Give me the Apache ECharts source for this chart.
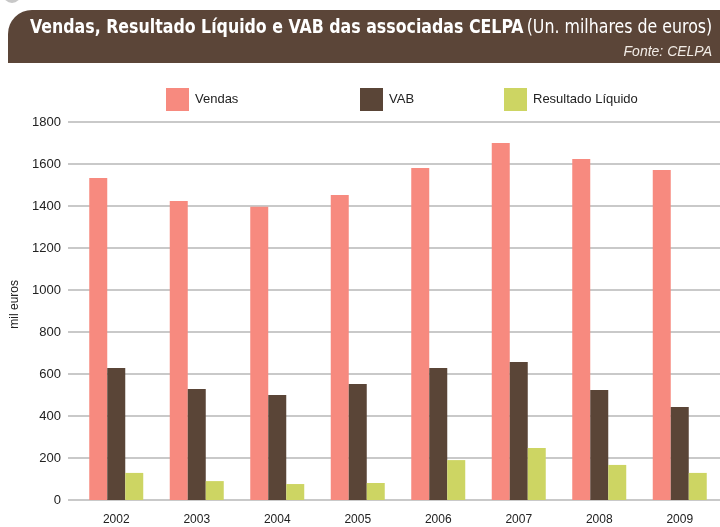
<!DOCTYPE html>
<html>
<head>
<meta charset="utf-8">
<script src="https://cdn.jsdelivr.net/npm/echarts@6/dist/echarts.min.js"></script>
<style>
  html, body { margin: 0; padding: 0; background: #fff; }
  #main { width: 720px; height: 527px; }
</style>
</head>
<body>
<div id="main"></div>
<script type="text/javascript">
// dados (mil euros)
var anos = ['2002', '2003', '2004', '2005', '2006', '2007', '2008', '2009'];
var vendas = [1533, 1424, 1397, 1452, 1581, 1700, 1624, 1571];
var vab = [628, 529, 500, 552, 628, 657, 524, 443];
var resultado = [129, 90, 76, 81, 190, 248, 167, 129];
var yTicks = [0, 200, 400, 600, 800, 1000, 1200, 1400, 1600, 1800];

var corVendas = '#f78a7f';
var corVab = '#5a4537';
var corRes = '#cdd563';

var myChart = echarts.init(document.getElementById('main'));

var legendBase = {
    top: 83,
    itemWidth: 23,
    itemHeight: 23,
    itemGap: 6,
    icon: 'rect',
    selectedMode: false,
    textStyle: { fontFamily: 'Liberation Sans', fontSize: 13, color: '#222', padding: [0, 0, 0, 1] }
};

option = {
    animation: false,
    textStyle: { fontFamily: 'Liberation Sans' },
    graphic: [
        {
            type: 'rect', z: -1,
            shape: { x: 8, y: 10, width: 712, height: 53, r: [24, 0, 0, 0] },
            style: { fill: '#5b4538' }
        },
        {
            type: 'circle', z: -1,
            shape: { cx: 12, cy: -6, r: 9 },
            style: { fill: '#c8c8c8' }
        },
        {
            // titulo (letra condensada)
            type: 'text', z: 5,
            x: 30, y: 19, scaleX: 0.925,
            style: {
                text: '{b|Vendas, Resultado Líquido e VAB das associadas CELPA} {n|(Un. milhares de euros)}',
                rich: {
                    b: { fontFamily: 'DejaVu Sans Condensed', fontWeight: 'bold', fontSize: 19, fill: '#fff' },
                    n: { fontFamily: 'DejaVu Sans Condensed', fontSize: 19, fill: '#fff' }
                }
            }
        },
        {
            type: 'text', z: 5,
            right: 8, top: 45,
            style: { text: 'Fonte: CELPA', fill: '#f2ece6', font: 'italic 14px "Liberation Sans"' }
        },
        {
            type: 'text', z: 5,
            left: 9, top: 280,
            rotation: Math.PI / 2,
            style: { text: 'mil euros', fill: '#222', font: '12px "Liberation Sans"' }
        }
    ],
    legend: [
        Object.assign({ left: 161, data: ['Vendas'] }, legendBase),
        Object.assign({ left: 355, data: ['VAB'] }, legendBase),
        Object.assign({ left: 499, data: ['Resultado Líquido'] }, legendBase)
    ],
    grid: [
        { left: 68, right: 0, top: 122, bottom: 27 },
        { left: 76, right: -4, top: 122, bottom: 27 }
    ],
    xAxis: [
        {
            gridIndex: 0, type: 'category', data: anos, show: false
        },
        {
            gridIndex: 1, type: 'category', data: anos,
            axisLine: { show: false },
            axisTick: { show: false },
            axisLabel: { color: '#222', fontSize: 12, margin: 14 }
        }
    ],
    yAxis: [
        {
            gridIndex: 0, type: 'value', min: 0, max: 1800, interval: 200,
            axisLine: { show: false },
            axisTick: { show: false },
            axisLabel: {
                color: '#222', fontSize: 13, margin: 7,
                formatter: function (v) { return yTicks.indexOf(v) >= 0 ? String(v) : ''; }
            },
            splitLine: { lineStyle: { color: '#c9c9c9', width: 2 } }
        },
        {
            gridIndex: 1, type: 'value', min: 0, max: 1800, interval: 200,
            show: false
        }
    ],
    series: [
        {
            name: 'Vendas', type: 'bar', xAxisIndex: 1, yAxisIndex: 1,
            data: vendas, barWidth: 18, barGap: '0%',
            itemStyle: { color: corVendas }
        },
        {
            name: 'VAB', type: 'bar', xAxisIndex: 1, yAxisIndex: 1,
            data: vab, barWidth: 18, barGap: '0%',
            itemStyle: { color: corVab }
        },
        {
            name: 'Resultado Líquido', type: 'bar', xAxisIndex: 1, yAxisIndex: 1,
            data: resultado, barWidth: 18, barGap: '0%',
            itemStyle: { color: corRes }
        }
    ]
};

myChart.setOption(option);
</script>
</body>
</html>
